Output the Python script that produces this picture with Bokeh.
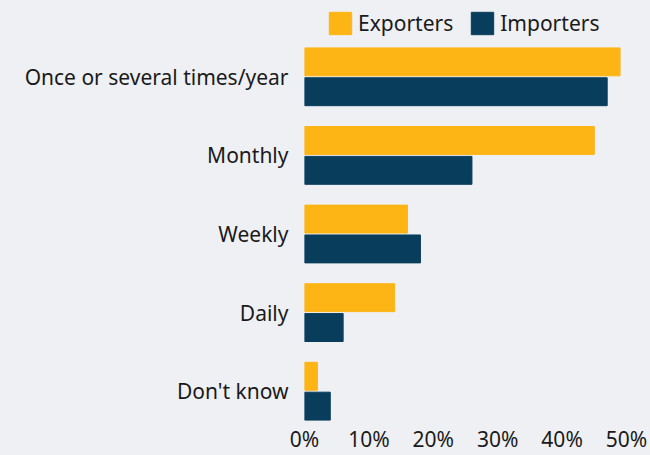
from bokeh.plotting import figure
from bokeh.layouts import column
from bokeh.models import (ColumnDataSource, FactorRange, Range1d, Legend, LegendItem,
                          FixedTicker, PrintfTickFormatter)
from bokeh.transform import dodge
from bokeh.embed import file_html
from bokeh.resources import INLINE

categories = ["Once or several times/year", "Monthly", "Weekly", "Daily", "Don't know"]
exporters = [49, 45, 16, 14, 2]
importers = [47, 26, 18, 6, 4]
x_ticks = [0, 10, 20, 30, 40, 50]
series_names = ["Exporters", "Importers"]

BG = "#eff0f4"
YELLOW = "#fdb515"
BLUE = "#083d5c"
TXT = "#1a1a1a"
FONT = "Noto Sans"
FS = "21px"
W = 650
LEFT = 304
RIGHT = 24

src = ColumnDataSource(dict(cat=categories, exp=exporters, imp=importers))


def add_bars(fig, visible=True):
    a = fig.hbar(y=dodge("cat", 0.19, range=fig.y_range), right="exp", height=0.355, source=src,
                 fill_color=YELLOW, line_color=YELLOW, visible=visible)
    b = fig.hbar(y=dodge("cat", -0.19, range=fig.y_range), right="imp", height=0.355, source=src,
                 fill_color=BLUE, line_color=BLUE, visible=visible)
    return a, b


# ---- legend strip (top) ----
leg_fig = figure(width=W, height=37, output_backend="svg", toolbar_location=None,
                 x_range=Range1d(0, 50), y_range=FactorRange(*categories[::-1]),
                 x_axis_location=None, y_axis_location=None,
                 background_fill_color=BG, border_fill_color=BG,
                 min_border_left=LEFT, min_border_right=RIGHT, min_border_top=0, min_border_bottom=0)
leg_fig.outline_line_color = None
leg_fig.grid.visible = False
lr1, lr2 = add_bars(leg_fig, visible=False)
legend = Legend(items=[LegendItem(label=series_names[0], renderers=[lr1]),
                       LegendItem(label=series_names[1], renderers=[lr2])],
                orientation="horizontal", location=(22, 0),
                glyph_width=28, glyph_height=28, label_height=28,
                label_text_font=FONT, label_text_font_size=FS, label_text_color=TXT,
                label_standoff=4, spacing=15, padding=0, margin=0,
                inactive_fill_alpha=0,
                background_fill_alpha=0, border_line_color=None)
leg_fig.add_layout(legend)

# ---- main chart ----
p = figure(width=W, height=418, output_backend="svg", toolbar_location=None,
           y_range=FactorRange(*categories[::-1]), x_range=Range1d(0, 50),
           background_fill_color=BG, border_fill_color=BG,
           min_border_left=LEFT, min_border_right=RIGHT, min_border_top=0, min_border_bottom=20)
p.outline_line_color = None
p.grid.visible = False
add_bars(p)

for ax in (p.xaxis[0], p.yaxis[0]):
    ax.axis_line_color = None
    ax.major_tick_line_color = None
    ax.minor_tick_line_color = None
    ax.major_label_text_font = FONT
    ax.major_label_text_font_size = FS
    ax.major_label_text_color = TXT
p.yaxis.major_label_standoff = 10
p.xaxis.major_label_standoff = -12
p.xaxis.ticker = FixedTicker(ticks=x_ticks)
p.xaxis.formatter = PrintfTickFormatter(format="%d%%")

layout = column(leg_fig, p, spacing=0, styles={"background-color": BG})

html = file_html(layout, INLINE)
open("out.html", "w").write(html)
